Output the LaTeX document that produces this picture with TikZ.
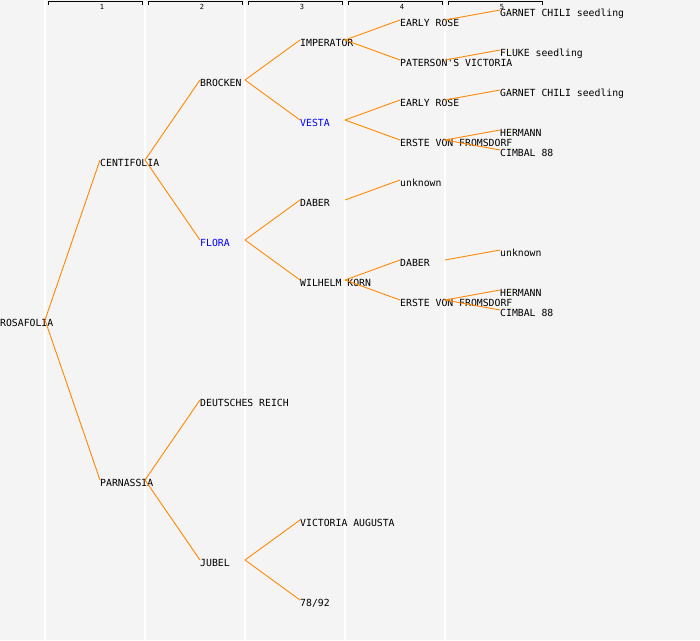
\documentclass[tikz,border=0pt]{standalone}
\usepackage{fontspec}
\setmonofont{DejaVu Sans Mono}
\definecolor{pedbg}{RGB}{244,244,244}
\definecolor{pedline}{RGB}{255,136,0}
\definecolor{pedblue}{RGB}{0,0,255}

\begin{document}
\begin{tikzpicture}[x=1pt,y=-1pt,
    cv/.style={anchor=north west, inner sep=0pt, text height=6pt, text depth=2pt,
      font=\ttfamily\fontsize{9.8}{10}\selectfont},
    seed/.style={cv, text=pedblue},
    gen/.style={inner sep=0pt, font=\ttfamily\fontsize{7}{7}\selectfont},
    link/.style={draw=pedline, line width=0.9pt}]
  \path[use as bounding box, fill=pedbg] (0,0) rectangle (700,640);

  % generation columns
  \foreach \g in {1,...,5} {
    \draw[white, line width=1.5pt] (100*\g-55,0) -- (100*\g-55,640);
    \draw[black, line width=0.8pt] (100*\g-52,5) -- (100*\g-52,1.5) -- (100*\g+42,1.5) -- (100*\g+42,5);
    \node[gen] (g\g) at (100*\g+2,6.5) {\g};
  }

  % varieties
  \node[cv] (rosafolia) at (0,320) {ROSAFOLIA};
  \node[cv] (centifolia) at (100,160) {CENTIFOLIA};
  \node[cv] (parnassia) at (100,480) {PARNASSIA};
  \node[cv] (brocken) at (200,80) {BROCKEN};
  \node[seed] (flora) at (200,240) {FLORA};
  \node[cv] (reich) at (200,400) {DEUTSCHES REICH};
  \node[cv] (jubel) at (200,560) {JUBEL};
  \node[cv] (imperator) at (300,40) {IMPERATOR};
  \node[seed] (vesta) at (300,120) {VESTA};
  \node[cv] (daberA) at (300,200) {DABER};
  \node[cv] (korn) at (300,280) {WILHELM KORN};
  \node[cv] (augusta) at (300,520) {VICTORIA AUGUSTA};
  \node[cv] (nr7892) at (300,600) {78/92};
  \node[cv] (earlyA) at (400,20) {EARLY ROSE};
  \node[cv] (paterson) at (400,60) {PATERSON'S VICTORIA};
  \node[cv] (earlyB) at (400,100) {EARLY ROSE};
  \node[cv] (ersteA) at (400,140) {ERSTE VON FROMSDORF};
  \node[cv] (unknownA) at (400,180) {unknown};
  \node[cv] (daberB) at (400,260) {DABER};
  \node[cv] (ersteB) at (400,300) {ERSTE VON FROMSDORF};
  \node[cv] (garnetA) at (500,10) {GARNET CHILI seedling};
  \node[cv] (fluke) at (500,50) {FLUKE seedling};
  \node[cv] (garnetB) at (500,90) {GARNET CHILI seedling};
  \node[cv] (hermannA) at (500,130) {HERMANN};
  \node[cv] (cimbalA) at (500,150) {CIMBAL 88};
  \node[cv] (unknownB) at (500,250) {unknown};
  \node[cv] (hermannB) at (500,290) {HERMANN};
  \node[cv] (cimbalB) at (500,310) {CIMBAL 88};

  % parentage
  \foreach \a/\b in {rosafolia/centifolia, rosafolia/parnassia,
      centifolia/brocken, centifolia/flora, parnassia/reich, parnassia/jubel,
      brocken/imperator, brocken/vesta, flora/daberA, flora/korn,
      jubel/augusta, jubel/nr7892,
      imperator/earlyA, imperator/paterson, vesta/earlyB, vesta/ersteA,
      daberA/unknownA, korn/daberB, korn/ersteB,
      earlyA/garnetA, paterson/fluke, earlyB/garnetB,
      ersteA/hermannA, ersteA/cimbalA, daberB/unknownB,
      ersteB/hermannB, ersteB/cimbalB}
    \draw[link] ([xshift=45pt]\a.north west) -- (\b.north west);
\end{tikzpicture}
\end{document}
